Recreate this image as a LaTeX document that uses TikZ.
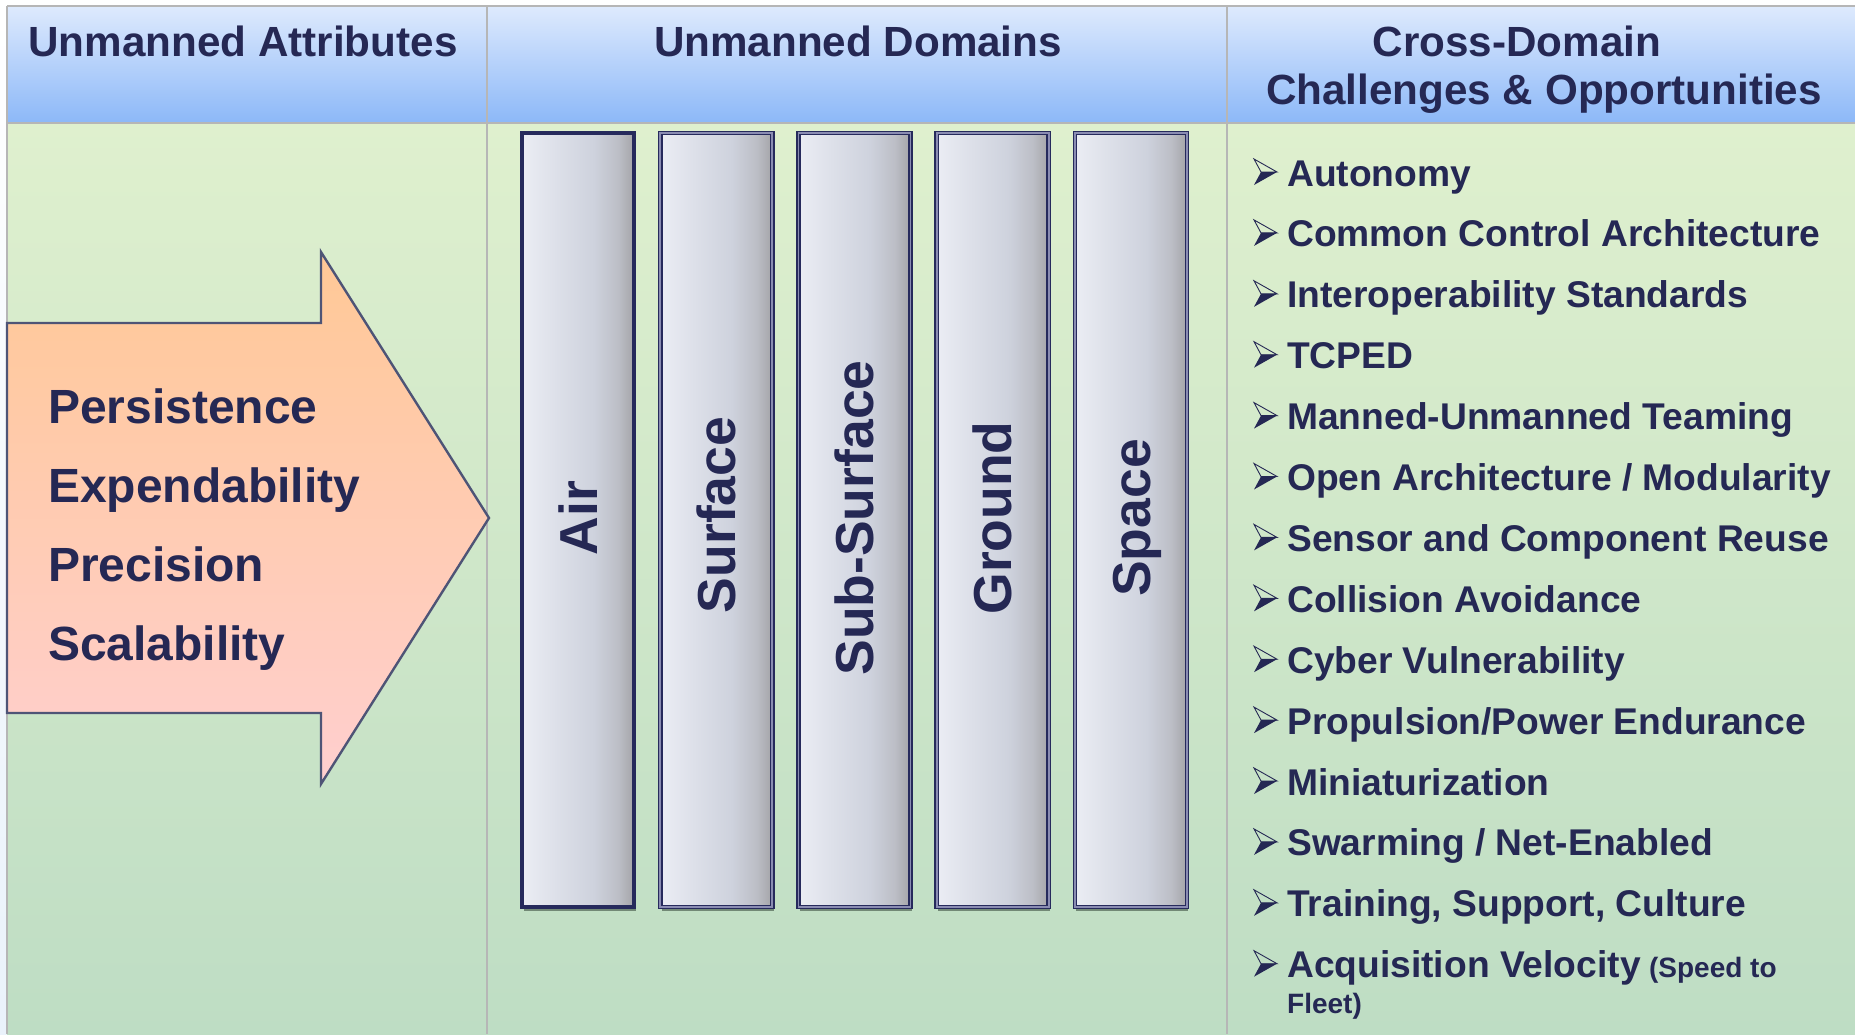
\documentclass[tikz,border=0pt]{standalone}
\usepackage{fontspec}
\setmainfont{Liberation Sans}
\usetikzlibrary{shadows}

% palette
\definecolor{navytext}{RGB}{37,40,84}
\definecolor{headtop}{RGB}{222,234,253}
\definecolor{headbot}{RGB}{140,184,248}
\definecolor{bodytop}{RGB}{223,240,206}
\definecolor{bodybot}{RGB}{190,221,196}
\definecolor{gridgrey}{RGB}{182,182,182}
\definecolor{margintop}{RGB}{255,255,255}
\definecolor{marginbot}{RGB}{234,242,251}
\definecolor{arrowtop}{RGB}{255,200,150}
\definecolor{arrowbot}{RGB}{255,207,207}
\definecolor{arrowline}{RGB}{78,84,118}
\definecolor{boxnavy}{RGB}{38,42,92}
\definecolor{boxgap}{RGB}{138,140,178}
\definecolor{boxshadow}{RGB}{88,108,92}
\definecolor{boxA}{RGB}{235,237,244}
\definecolor{boxB}{RGB}{221,224,233}
\definecolor{boxC}{RGB}{206,210,221}
\definecolor{boxD}{RGB}{188,190,198}
\definecolor{boxE}{RGB}{164,164,168}

% light-to-dark sweep across each domain pillar
\pgfdeclarehorizontalshading{domainshade}{100bp}{%
  color(0bp)=(boxA); color(25bp)=(boxA); color(40bp)=(boxB);
  color(57bp)=(boxC); color(68bp)=(boxD); color(75bp)=(boxE);
  color(100bp)=(boxE)}

\begin{document}
\begin{tikzpicture}[x=1pt,y=-1pt,
  gridline/.style={draw=gridgrey, line width=2},
  headtext/.style={anchor=base, inner sep=0, text=navytext,
    font=\fontsize{42.2}{48}\selectfont\bfseries},
  attrtext/.style={anchor=base west, inner sep=0, text=navytext,
    font=\fontsize{48}{56}\selectfont\bfseries},
  pillar/.style={rectangle, inner sep=0, minimum width=112, minimum height=774,
    shading=domainshade, draw=boxnavy,
    drop shadow={shadow xshift=1.5pt, shadow yshift=-4pt, opacity=0.75, fill=boxshadow}},
  pillarsolid/.style={pillar, line width=4.2},
  pillardouble/.style={pillar, line width=1.4, double=boxgap, double distance=1.8},
  domtext/.style={anchor=base, rotate=90, inner sep=0, text=navytext,
    font=\fontsize{53.5}{60}\selectfont\bfseries},
  itemtext/.style={anchor=base west, inner sep=0, text=navytext,
    font=\fontsize{37.2}{44}\selectfont\bfseries},
  notetext/.style={inner sep=0, text=navytext,
    font=\fontsize{28}{34}\selectfont\bfseries},
  bulletglyph/.pic={
    \fill[navytext] (-26,-14) -- (-10,-14) -- (-33,-1) -- cycle;
    \draw[navytext, line width=0.9, line join=miter]
      (-33,-27) -- (-10,-14) -- (-26,-14) -- cycle;
  }]
\useasboundingbox (0,0) rectangle (1855,1034);

% page and table background
\fill[white] (0,0) rectangle (1855,1034);
\shade[top color=margintop, bottom color=marginbot] (0,6) rectangle (7,1034);
\shade[top color=headtop, bottom color=headbot] (7,6) rectangle (1855,123);
\shade[top color=bodytop, bottom color=bodybot] (7,123) rectangle (1855,1034);

% cell rules
\draw[gridline] (7,6) -- (1855,6);
\draw[gridline] (7,123) -- (1855,123);
\draw[gridline] (7,6) -- (7,1034);
\draw[gridline] (487,6) -- (487,1034);
\draw[gridline] (1227,6) -- (1227,1034);

% column headings
\node[headtext] (hAttr) at (243,56) {Unmanned Attributes};
\node[headtext] (hDom) at (858,56) {Unmanned Domains};
\node[headtext] (hCrossA) at (1517,56) {Cross-Domain};
\node[headtext] (hCrossB) at (1544,104.5) {Challenges \& Opportunities};

% attributes block arrow
\path[top color=arrowtop, bottom color=arrowbot, draw=arrowline,
      line width=2.4, line join=miter]
  (7,323) -- (321,323) -- (321,252) -- (489,518) -- (321,784)
  -- (321,713) -- (7,713) -- cycle;
\node[attrtext] (aPers) at (48,423) {Persistence};
\node[attrtext] (aExp)  at (48,502) {Expendability};
\node[attrtext] (aPrec) at (48,581) {Precision};
\node[attrtext] (aScal) at (48,660) {Scalability};

% domain pillars
\node[pillarsolid]  (pAir)   at (578,520)   {};
\node[pillardouble] (pSurf)  at (716.2,520) {};
\node[pillardouble] (pSub)   at (854.4,520) {};
\node[pillardouble] (pGround) at (992.6,520) {};
\node[pillardouble] (pSpace) at (1130.8,520) {};

\node[domtext] (tAir)    at (597.3,518)  {Air};
\node[domtext] (tSurf)   at (735.5,515)  {Surface};
\node[domtext] (tSub)    at (873.7,518)  {Sub-Surface};
\node[domtext] (tGround) at (1011.9,518) {Ground};
\node[domtext] (tSpace)  at (1150.1,518) {Space};

% cross-domain list
\pic at (1287,186.0) {bulletglyph};
\node[itemtext] (c1) at (1287,186.0) {Autonomy};
\pic at (1287,246.9) {bulletglyph};
\node[itemtext] (c2) at (1287,246.9) {Common Control Architecture};
\pic at (1287,307.8) {bulletglyph};
\node[itemtext] (c3) at (1287,307.8) {Interoperability Standards};
\pic at (1287,368.7) {bulletglyph};
\node[itemtext] (c4) at (1287,368.7) {TCPED};
\pic at (1287,429.6) {bulletglyph};
\node[itemtext] (c5) at (1287,429.6) {Manned-Unmanned Teaming};
\pic at (1287,490.5) {bulletglyph};
\node[itemtext] (c6) at (1287,490.5) {Open Architecture / Modularity};
\pic at (1287,551.4) {bulletglyph};
\node[itemtext] (c7) at (1287,551.4) {Sensor and Component Reuse};
\pic at (1287,612.3) {bulletglyph};
\node[itemtext] (c8) at (1287,612.3) {Collision Avoidance};
\pic at (1287,673.2) {bulletglyph};
\node[itemtext] (c9) at (1287,673.2) {Cyber Vulnerability};
\pic at (1287,734.1) {bulletglyph};
\node[itemtext] (c10) at (1287,734.1) {Propulsion/Power Endurance};
\pic at (1287,795.0) {bulletglyph};
\node[itemtext] (c11) at (1287,795.0) {Miniaturization};
\pic at (1287,855.9) {bulletglyph};
\node[itemtext] (c12) at (1287,855.9) {Swarming / Net-Enabled};
\pic at (1287,916.8) {bulletglyph};
\node[itemtext] (c13) at (1287,916.8) {Training, Support, Culture};
\pic at (1287,977.7) {bulletglyph};
\node[itemtext] (c14) at (1287,977.7) {Acquisition Velocity};
\node[notetext, anchor=base west] (c14note) at ([xshift=8pt]c14.base east) {(Speed to};
\node[notetext, anchor=base west] (c14tail) at (1287,1013) {Fleet)};
\end{tikzpicture}
\end{document}
